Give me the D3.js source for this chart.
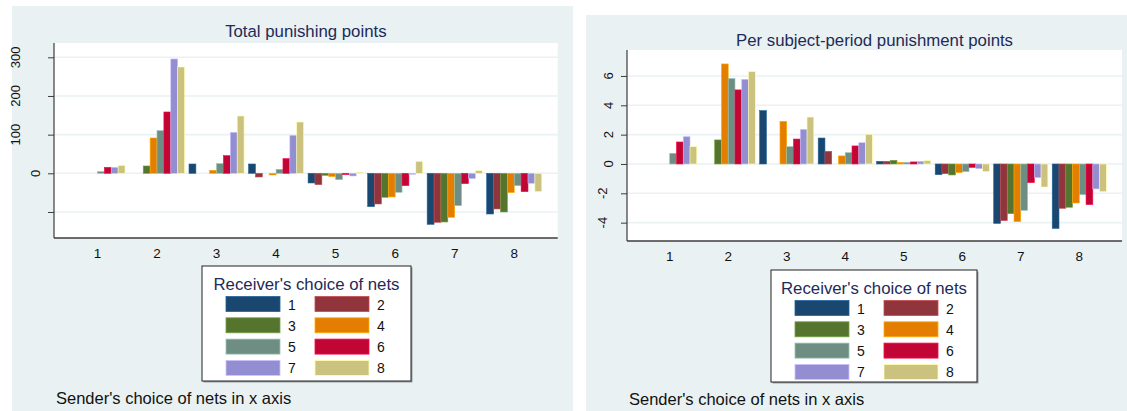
<!DOCTYPE html>
<html>
<head>
<meta charset="utf-8">
<script src="https://cdn.jsdelivr.net/npm/d3@7"></script>
<style>
  html, body { margin: 0; padding: 0; background: #ffffff; }
  svg { display: block; font-family: "Liberation Sans", Arial, sans-serif; }
</style>
</head>
<body>
<svg id="chart" width="1127" height="411"></svg>
<script>
// Sender's choice of nets (x categories) and receiver's choice of nets (bar series)
const senders = ["1", "2", "3", "4", "5", "6", "7", "8"];
const receivers = ["1", "2", "3", "4", "5", "6", "7", "8"];
const seriesColors = ["#1a476f", "#90353b", "#55752f", "#e37e00", "#6e8e84", "#c10534", "#938dd2", "#cac27e"];

// Total punishing points: one row per sender, one value per receiver choice
const totalPoints = [
  [0, 0, 0, 0, 4.3, 15.5, 15.5, 20.7],
  [0, 0, 19, 91.4, 110.3, 158.6, 295.7, 275],
  [24.1, 0, 0, 7.8, 25, 45.7, 106, 148.3],
  [24.1, -9.5, 0, -4.3, 10.3, 37.9, 98.3, 132.7],
  [-25, -29.3, -5.2, -8.6, -16.4, -3.4, -6.9, 2.6],
  [-86.2, -79.3, -62, -61.2, -49.1, -31.9, -2.6, 31],
  [-131.9, -126.7, -125.9, -113.8, -83.6, -26.7, -13.8, 6.9],
  [-105.2, -92.2, -100, -50, -31.9, -47.4, -25.9, -47.4]
];

// Per subject-period punishment points
const perSubjectPoints = [
  [0, 0, 0, 0, 0.73, 1.5, 1.86, 1.18],
  [0, 0, 1.64, 6.82, 5.82, 5.05, 5.77, 6.3],
  [3.64, 0, 0, 2.91, 1.18, 1.7, 2.36, 3.2],
  [1.77, 0.86, 0, 0.55, 0.77, 1.23, 1.45, 2.02],
  [0.18, 0.18, 0.25, 0.11, 0.11, 0.14, 0.18, 0.23],
  [-0.73, -0.66, -0.75, -0.59, -0.52, -0.23, -0.32, -0.52],
  [-4.05, -3.86, -3.39, -3.93, -3.16, -1.27, -0.93, -1.57],
  [-4.39, -3.02, -2.95, -2.66, -2.09, -2.77, -1.70, -1.89]
];

const totalTicks = [-100, 0, 100, 200, 300];
const totalTickLabels = ["", "0", "100", "200", "300"];
const perSubjectTicks = [-4, -2, 0, 2, 4, 6];
const perSubjectTickLabels = ["-4", "-2", "0", "2", "4", "6"];

const panelBg = "#e9f1f3";
const titleColor = "#1e2a57";
const svg = d3.select("#chart");

function drawPanel(cfg) {
  const g = svg.append("g");

  // graph region
  g.append("rect")
    .attr("x", cfg.region[0]).attr("y", cfg.region[1])
    .attr("width", cfg.region[2]).attr("height", cfg.region[3])
    .attr("fill", panelBg);

  const [pl, pt, pr, pb] = cfg.plot;
  g.append("rect")
    .attr("x", pl).attr("y", pt).attr("width", pr - pl).attr("height", pb - pt)
    .attr("fill", "#ffffff");

  const y = d3.scaleLinear().domain(cfg.yDomain).range([pb, pt]);
  const x = d3.scalePoint().domain(senders).range([pl, pr]).padding(0.73);
  const groupW = x.step() * 0.925;
  const xi = d3.scaleBand().domain(receivers).range([-groupW / 2, groupW / 2]).padding(0);

  // grid lines
  g.append("g").selectAll("line").data(cfg.ticks).join("line")
    .attr("x1", pl).attr("x2", pr)
    .attr("y1", d => y(d)).attr("y2", d => y(d))
    .attr("stroke", "#eaf2f3").attr("stroke-width", 1.6);

  // bars
  const groups = g.append("g").selectAll("g").data(cfg.values).join("g")
    .attr("transform", (d, i) => `translate(${x(senders[i])},0)`);
  groups.selectAll("rect").data(d => d.map((v, j) => ({ v, j }))).join("rect")
    .filter(d => d.v !== 0)
    .attr("x", d => xi(receivers[d.j]))
    .attr("width", xi.bandwidth())
    .attr("y", d => Math.min(y(d.v), y(0)))
    .attr("height", d => Math.abs(y(d.v) - y(0)))
    .attr("fill", d => seriesColors[d.j])
    .attr("stroke", d => d3.color(seriesColors[d.j]).brighter(0.9))
    .attr("stroke-width", 0.6);

  // y axis
  const yAxis = d3.axisLeft(y).tickValues(cfg.ticks).tickSize(6).tickFormat("");
  const ya = g.append("g").attr("transform", `translate(${pl},0)`).call(yAxis);
  ya.select(".domain").attr("stroke", "#3c3c3c").attr("stroke-width", 1.2)
    .attr("d", `M0,${pt}V${pb}`);
  ya.selectAll(".tick line").attr("stroke", "#3c3c3c").attr("stroke-width", 1);

  // rotated y tick labels
  const labs = g.append("g").selectAll("text").data(cfg.ticks).join("text")
    .text((d, i) => cfg.tickLabels[i])
    .attr("font-size", 13)
    .attr("fill", "#111")
    .attr("text-anchor", "middle")
    .attr("dominant-baseline", "central");
  labs.each(function (d) {
    const w = this.getComputedTextLength();
    const cx = pl - 8.5 - w * 1.4;
    const cy = y(d);
    d3.select(this).attr("x", 0).attr("y", 0)
      .attr("transform", `translate(${cx},${cy}) rotate(-90)`);
  });

  // x axis line
  g.append("line")
    .attr("x1", pl).attr("x2", pr).attr("y1", pb).attr("y2", pb)
    .attr("stroke", "#3c3c3c").attr("stroke-width", 1.5);

  // x category labels
  g.append("g").selectAll("text").data(senders).join("text")
    .attr("x", d => x(d)).attr("y", pb + 20)
    .attr("text-anchor", "middle")
    .attr("font-size", 13.5).attr("fill", "#111")
    .text(d => d);

  // title
  g.append("text")
    .attr("x", (pl + pr) / 2).attr("y", cfg.titleY)
    .attr("text-anchor", "middle")
    .attr("font-size", 16.8).attr("fill", titleColor)
    .text(cfg.title);

  // legend
  const lx = cfg.legend[0], ly = cfg.legend[1], lw = cfg.legend[2], lh = cfg.legend[3];
  g.append("rect").attr("x", lx + 1.5).attr("y", ly + 1.5).attr("width", lw).attr("height", lh)
    .attr("fill", "#9aa0a4");
  g.append("rect").attr("x", lx).attr("y", ly).attr("width", lw).attr("height", lh)
    .attr("fill", "#ffffff").attr("stroke", "#222").attr("stroke-width", 1);
  g.append("text")
    .attr("x", lx + lw / 2).attr("y", ly + 24)
    .attr("text-anchor", "middle")
    .attr("font-size", 16.8).attr("fill", titleColor)
    .text("Receiver's choice of nets");
  const items = g.append("g").selectAll("g").data(receivers).join("g")
    .attr("transform", (d, i) => `translate(${lx + 24 + (i % 2) * 89},${ly + 30.5 + Math.floor(i / 2) * 21.3})`);
  items.append("rect")
    .attr("width", 54).attr("height", 15)
    .attr("fill", (d, i) => seriesColors[i])
    .attr("stroke", (d, i) => d3.color(seriesColors[i]).brighter(0.9))
    .attr("stroke-width", 0.8);
  items.append("text")
    .attr("x", 62).attr("y", 13)
    .attr("font-size", 14).attr("fill", "#111")
    .text(d => d);

  // note
  g.append("text")
    .attr("x", pl + 2).attr("y", cfg.noteY)
    .attr("font-size", 16.5).attr("fill", "#111")
    .text("Sender's choice of nets in x axis");
}

drawPanel({
  region: [12, 6, 561, 405],
  plot: [54, 43, 557.7, 238],
  yDomain: [-167.3, 337],
  ticks: totalTicks,
  tickLabels: totalTickLabels,
  values: totalPoints,
  title: "Total punishing points",
  titleY: 36.5,
  legend: [202, 266, 209, 115],
  noteY: 404
});

drawPanel({
  region: [586, 15, 541, 396],
  plot: [627, 50, 1122, 241],
  yDomain: [-5.25, 7.77],
  ticks: perSubjectTicks,
  tickLabels: perSubjectTickLabels,
  values: perSubjectPoints,
  title: "Per subject-period punishment points",
  titleY: 45.5,
  legend: [771, 270, 206, 112],
  noteY: 405
});
</script>
</body>
</html>
